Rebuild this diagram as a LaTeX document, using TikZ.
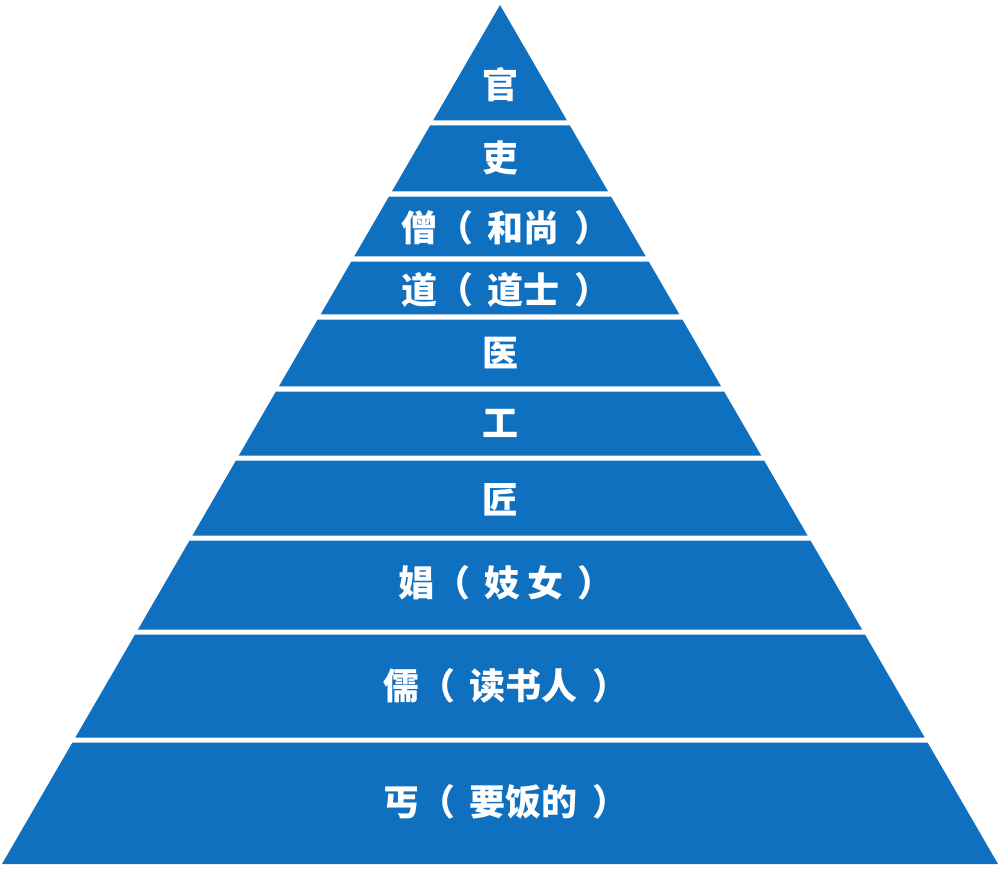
\documentclass[tikz,border=0pt]{standalone}
\usepackage{fontspec}
\newfontfamily\cjk{Noto Sans CJK SC}
\usetikzlibrary{calc}
\definecolor{bandblue}{HTML}{1070C0}
\newcommand{\pgap}{\hspace{0.4em}}

\begin{document}
\begin{tikzpicture}[x=0.5pt,y=-0.5pt,
  band/.style={fill=bandblue},
  rank/.style={text=white,inner sep=0pt,font=\cjk\bfseries\fontsize{18pt}{18pt}\selectfont}]
\useasboundingbox (0,0) rectangle (1000,889);
\coordinate (apex) at (500,5);
\coordinate (bl) at (2,864);
\coordinate (br) at (998,864);

% bands, top to bottom
\foreach \ya/\yb in {5/120.5,125.5/191.5,196.5/256.5,261.5/314.5,319.5/386.5,
                     391.5/455.5,460.5/535.5,540.5/629.5,634.5/737.5,742.5/864}
  \fill[band] ($(apex)!{(\ya-5)/859}!(bl)$) -- ($(apex)!{(\ya-5)/859}!(br)$)
    -- ($(apex)!{(\yb-5)/859}!(br)$) -- ($(apex)!{(\yb-5)/859}!(bl)$) -- cycle;

\node[rank] (guan) at (500,85) {官};
\node[rank] (li) at (500,158) {吏};
\node[rank] (seng) at (506,228) {僧（\pgap 和尚\pgap ）};
\node[rank] (dao) at (506,290) {道（\pgap 道士\pgap ）};
\node[rank] (yi) at (500,353) {医};
\node[rank] (gong) at (500,423) {工};
\node[rank] (jiang) at (500,500) {匠};
\node[rank] (chang) at (506,583) {娼（\pgap 妓\hspace{0.2em}女\pgap ）};
\node[rank] (ru) at (506,686) {儒（\pgap 读书人\pgap ）};
\node[rank] (gai) at (506,802) {丐（\pgap 要饭的\pgap ）};
\end{tikzpicture}
\end{document}
